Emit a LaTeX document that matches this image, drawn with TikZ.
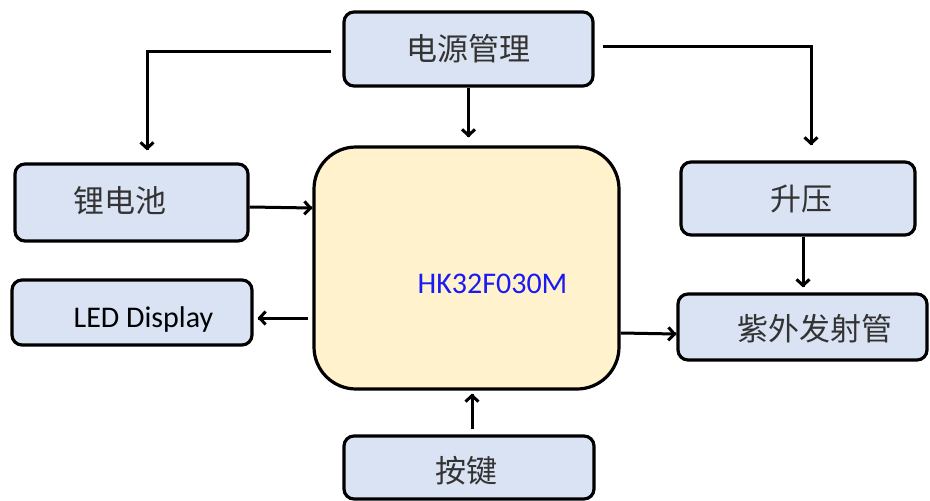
\documentclass[tikz,border=0pt]{standalone}
\usepackage{fontspec}
\setmainfont{Carlito}
\newfontfamily\cjk{Noto Sans CJK SC}
\usetikzlibrary{decorations.markings,arrows.meta}
\definecolor{boxblue}{HTML}{DAE3F3}
\definecolor{chipyellow}{HTML}{FFF2CC}
\definecolor{chipblue}{HTML}{1A1AF5}
\definecolor{inkgray}{HTML}{333333}

\begin{document}
\begin{tikzpicture}[x=1pt, y=-1pt, >={Straight Barb[length=6pt,width=13pt]},
  box/.style={draw=black, line width=3.2pt, rounded corners=10pt, fill=boxblue, inner sep=0pt},
  chip/.style={draw=black, line width=3.2pt, rounded corners=42pt, fill=chipyellow, inner sep=0pt, minimum width=305pt, minimum height=242pt},
  zh/.style={font=\cjk\fontsize{31}{36}\selectfont, text=inkgray},
  en/.style={font=\fontsize{30}{36}\selectfont},
  arr/.style={line width=3pt, decoration={markings,mark=at position 1 with {\arrow{>}}}, postaction={decorate}}]
\useasboundingbox (0,0) rectangle (930,501);
\node[chip, label={[en, text=chipblue, xshift=26pt, yshift=-15.5pt]center:HK32F030M}] (mcu) at (466.5,268) {};
\node[box, minimum width=249pt, minimum height=74pt, label={[zh]center:电源管理}] (power) at (468.5,49) {};
\node[box, minimum width=233pt, minimum height=77pt, label={[zh, xshift=-11.5pt, yshift=2pt]center:锂电池}] (bat) at (131.5,202.5) {};
\node[box, minimum width=240pt, minimum height=65pt, label={[en, text=black, xshift=11.5pt, yshift=-7pt]center:LED Display}] (led) at (132,312.5) {};
\node[box, minimum width=234pt, minimum height=73pt, label={[zh, xshift=3pt]center:升压}] (boost) at (798,198.5) {};
\node[box, minimum width=249pt, minimum height=66pt, label={[zh, xshift=12pt, yshift=-2pt]center:紫外发射管}] (uv) at (802.5,327) {};
\node[box, minimum width=250pt, minimum height=63pt, label={[zh, xshift=-2.5pt, yshift=-3pt]center:按键}] (key) at (469,467.5) {};
\draw[arr] ([xshift=-11pt,yshift=-2pt]power.west) -| ([xshift=15.5pt,yshift=12pt]bat.north);
\draw[arr] (power.south) -- ([yshift=8pt]power.south |- mcu.north);
\draw[arr] ([xshift=8pt,yshift=3pt]power.east) -| ([xshift=13pt,yshift=15pt]boost.north);
\draw[arr] ([yshift=-4.5pt]bat.east) -- ([yshift=60pt]mcu.west);
\draw[arr] ([xshift=-4pt,yshift=-50pt]mcu.west) -- ([xshift=4pt,yshift=-5.5pt]led.east);
\draw[arr] ([yshift=-65pt]mcu.east) -- ([yshift=-7pt]uv.west);
\draw[arr] ([xshift=5pt]boost.south) -- ([xshift=5pt,yshift=5pt]boost.south |- uv.north);
\draw[arr] ([xshift=3pt,yshift=5pt]key.north) -- ([xshift=3pt,yshift=-3pt]key.north |- mcu.south);
\end{tikzpicture}
\end{document}
